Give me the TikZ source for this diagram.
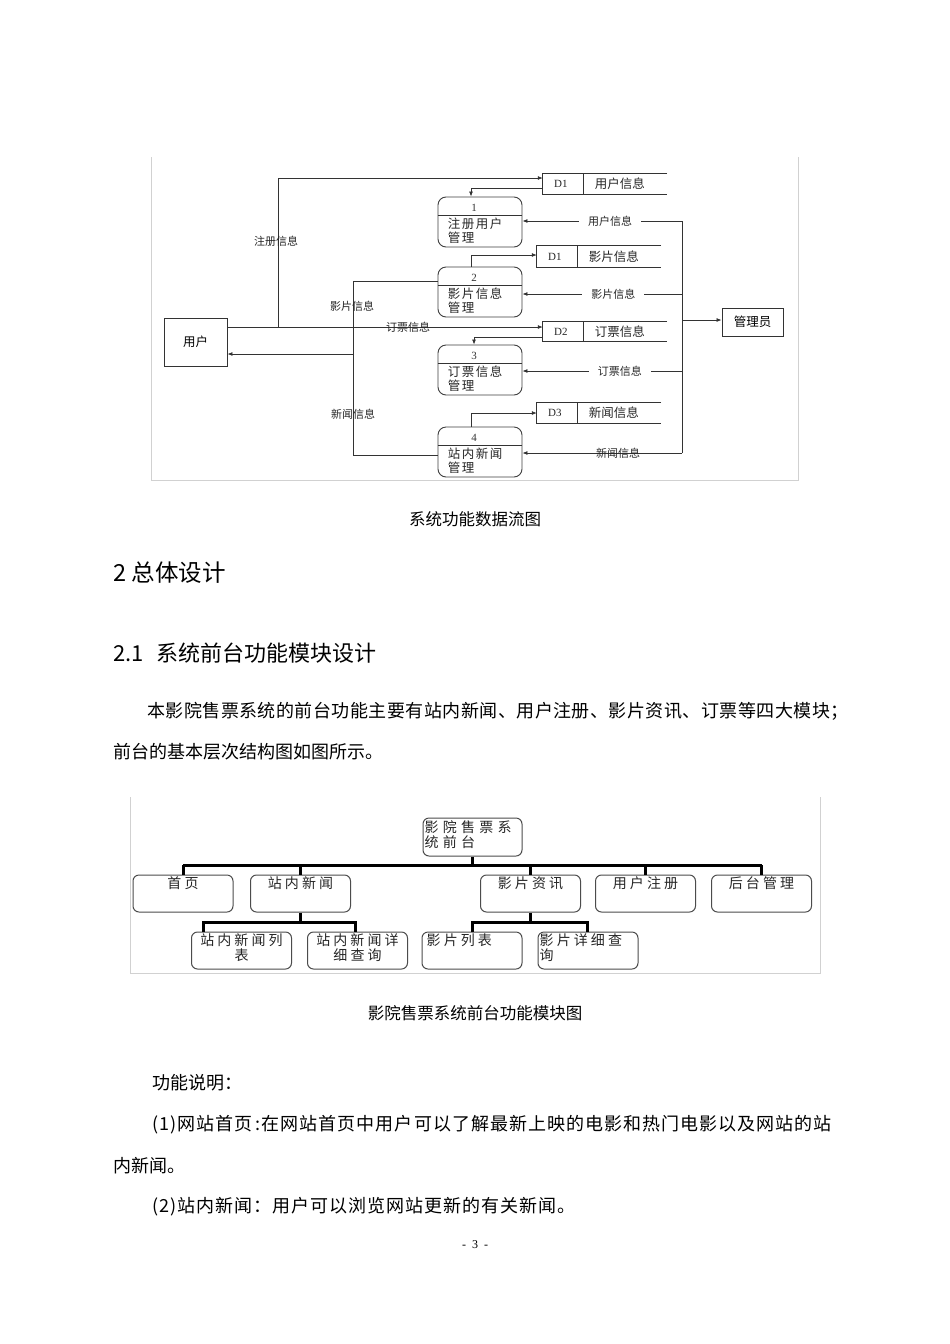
\documentclass[tikz,border=0pt]{standalone}
\usepackage{fontspec}
\setmainfont{Noto Sans CJK SC}
\newfontfamily\cjksp[LetterSpace=12]{Noto Sans CJK SC}
\newfontfamily\cjkmod[LetterSpace=22]{Noto Sans CJK SC}
\newfontfamily\tms{Liberation Serif}
\usetikzlibrary{arrows.meta,calc}
\tikzset{
  frm/.style={draw=black!18, line width=0.9},
  proc/.style={draw=black!75, line width=0.9, rounded corners=8, minimum width=84, minimum height=50, inner sep=0},
  store/.style={minimum width=124, inner sep=0},
  ent/.style={draw=black!80, line width=0.9, inner sep=0, font=\fontsize{12.5}{14}\selectfont},
  flow/.style={draw=black!80, line width=0.8},
  arr/.style={flow, -{Latex[length=5,width=4]}},
  flbl/.style={font=\fontsize{11}{12}\selectfont, text=black!85, inner sep=1},
  pnum/.style={font=\tms\fontsize{11}{12}\selectfont, text=black!80, inner sep=0},
  ptxt/.style={font=\cjksp\fontsize{12.5}{14}\selectfont, text=black!85, inner sep=0, anchor=west},
  sid/.style={font=\tms\fontsize{11}{12}\selectfont, text=black!85, inner sep=0},
  stxt/.style={font=\fontsize{12.5}{14}\selectfont, text=black!85, inner sep=0},
  mbox/.style={draw=black!70, line width=1.0, rounded corners=6, minimum width=100, minimum height=37, inner sep=0},
  mtxt/.style={font=\cjkmod\fontsize{14}{15}\selectfont, text=black!85, inner sep=0},
  hbar/.style={draw=black, line width=3},
  bodytxt/.style={font=\fontsize{18}{18}\selectfont, anchor=west, inner sep=0},
  captxt/.style={font=\fontsize{16.5}{17}\selectfont, inner sep=0},
  hone/.style={font=\fontsize{23.5}{24}\selectfont, anchor=west, inner sep=0},
  htwo/.style={font=\fontsize{22}{23}\selectfont, anchor=west, inner sep=0},
  pgnum/.style={font=\tms\fontsize{12}{13}\selectfont, inner sep=0}
}
\begin{document}
\begin{tikzpicture}[x=1pt,y=-1pt]
\useasboundingbox[fill=white] (0,0) rectangle (950,1344);

% ---------------- data flow diagram ----------------
\draw[frm] (151,157) -- (151,480) -- (798,480) -- (798,157);

\node[proc] (p1) at (480,222) {};
\node[proc] (p2) at (480,292) {};
\node[proc] (p3) at (480,370) {};
\node[proc] (p4) at (480,452) {};
\foreach \p/\n/\a/\b in {p1/1/注册用户/管理, p2/2/影片信息/管理, p3/3/订票信息/管理, p4/4/站内新闻/管理} {
  \draw[flow] ($(\p.north west)+(0,19)$) -- ($(\p.north east)+(0,19)$);
  \node[pnum] (\p-n) at ($(\p.north)+(-6,11)$) {\n};
  \node[ptxt] (\p-a) at ($(\p.north west)+(10,27)$) {\a};
  \node[ptxt] (\p-b) at ($(\p.north west)+(10,41)$) {\b};
}

\node[store, minimum height=20] (s1) at (605,184) {};
\node[store, minimum height=21] (s2) at (599,256.5) {};
\node[store, minimum height=19] (s3) at (605,331.5) {};
\node[store, minimum height=20] (s4) at (599,413) {};
\foreach \s/\d/\t in {s1/D1/用户信息, s2/D1/影片信息, s3/D2/订票信息, s4/D3/新闻信息} {
  \draw[flow] (\s.north east) -- (\s.north west) -- (\s.south west) -- (\s.south east);
  \draw[flow] ($(\s.north west)+(41,0)$) -- ($(\s.south west)+(41,0)$);
  \node[sid] (\s-d) at ($(\s.west)+(18,0)$) {\d};
  \node[stxt] (\s-t) at ($(\s.west)+(77,0)$) {\t};
}

\node[ent, minimum width=63, minimum height=48] (u) at (195.5,342) {用户};
\node[ent, minimum width=61, minimum height=28] (adm) at (752.5,322) {管理员};

% user -> stores
\coordinate (jr) at (278,327);
\coordinate (jt) at (278,178);
\draw[arr] (u.east |- jr) -- (s3.west |- jr);
\draw[arr] (jr) -- (jt) -- (s1.west |- jt);
\node[flbl] (lreg) at (276,241) {注册信息};
\node[flbl] (lord) at (408,327) {订票信息};

% stores <-> processes
\coordinate (c1) at (471,188);
\draw[arr] (s1.west |- c1) -- (c1) -- (c1 |- p1.north);
\coordinate (c2) at (471,255);
\draw[arr] (c2 |- p2.north) -- (c2) -- (s2.west |- c2);
\coordinate (c3) at (474,337);
\draw[arr] (s3.west |- c3) -- (c3) -- (c3 |- p3.north);
\coordinate (c4) at (471,413);
\draw[arr] (c4 |- p4.north) -- (c4) -- (s4.west |- c4);

% administrator bus
\coordinate (bt) at (682,221);
\coordinate (bb) at (682,453);
\coordinate (bm) at (682,320);
\coordinate (b2) at (682,294);
\coordinate (b3) at (682,371);
\draw[flow] (bt) -- (bb);
\draw[arr] (bm) -- (adm.west |- bm);
\draw[arr] (bt) -- node[flbl, fill=white, inner xsep=9, pos=0.45] (lu) {用户信息} (p1.east |- bt);
\draw[arr] (b2) -- node[flbl, fill=white, inner xsep=9, pos=0.43] (lf) {影片信息} (p2.east |- b2);
\draw[arr] (b3) -- node[flbl, fill=white, inner xsep=9, pos=0.39] (lo) {订票信息} (p3.east |- b3);
\draw[arr] (bb) -- node[flbl, pos=0.4] (ln) {新闻信息} (p4.east |- bb);

% processes -> user
\coordinate (l1) at (353,281);
\coordinate (l2) at (353,455);
\coordinate (l3) at (353,354);
\draw[flow] (p2.west |- l1) -- (l1) -- (l2) -- (p4.west |- l2);
\draw[arr] (l3) -- (u.east |- l3);
\node[flbl] (lfilm) at (352,306) {影片信息};
\node[flbl] (lnews) at (353,414) {新闻信息};

% ---------------- text ----------------
\node[captxt] (cap1) at (475,519) {系统功能数据流图};
\node[hone] (hA) at (113,573) {2 总体设计};
\node[htwo] (hB) at (113,653) {2.1\hspace{13pt}系统前台功能模块设计};
\node[bodytxt] (t1) at (147,711) {\addfontfeatures{LetterSpace=2.6}本影院售票系统的前台功能主要有站内新闻、用户注册、影片资讯、订票等四大模块；};
\node[bodytxt] (t2) at (113,752) {前台的基本层次结构图如图所示。};

% ---------------- module diagram ----------------
\draw[frm] (130,797) -- (130,973) -- (820,973) -- (820,797);
\node[mbox, minimum width=99, minimum height=38] (root) at (472.5,837) {};
\node[mtxt, anchor=north west, align=left] (roott) at ($(root.north west)+(2,3)$) {\addfontfeatures{LetterSpace=30}影院售票系\\\addfontfeatures{LetterSpace=30}统前台};
\foreach \m/\x/\t in {m1/183/首页, m2/300.5/站内新闻, m3/530.5/影片资讯, m4/645.5/用户注册, m5/761.5/后台管理} {
  \node[mbox] (\m) at (\x,893.5) {};
  \node[mtxt] (\m-t) at ($(\m.north)+(0,9)$) {\t};
}
\node[mbox] (n1) at (241.5,950.5) {};
\node[mtxt, align=center] (n1t) at ($(n1.north)+(0,16.5)$) {站内新闻列\\表};
\node[mbox] (n2) at (357.5,950.5) {};
\node[mtxt, align=center] (n2t) at ($(n2.north)+(0,16.5)$) {站内新闻详\\细查询};
\node[mbox] (n3) at (472,950.5) {};
\node[mtxt, anchor=west] (n3t) at ($(n3.north west)+(5,9)$) {影片列表};
\node[mbox] (n4) at (588,950.5) {};
\node[mtxt, anchor=north west, align=left] (n4t) at ($(n4.north west)+(2,2)$) {影片详细查\\询};

\coordinate (bus) at (472,865);
\draw[hbar] (root.south) -- (root.south |- bus);
\draw[hbar] (m1.north |- bus) -- (m5.north |- bus);
\foreach \m in {m1,m2,m3,m4,m5} \draw[hbar] (\m.north |- bus) -- (\m.north);
\coordinate (sb1) at (203,922);
\coordinate (sb2) at (355,922);
\draw[hbar] (m2.south) -- (m2.south |- sb1);
\draw[hbar] (sb1 |- n1.north) -- (sb1) -- (sb2) -- (sb2 |- n2.north);
\coordinate (sb3) at (472,922);
\coordinate (sb4) at (587,922);
\draw[hbar] (m3.south) -- (m3.south |- sb3);
\draw[hbar] (sb3 |- n3.north) -- (sb3) -- (sb4) -- (sb4 |- n4.north);

% ---------------- text ----------------
\node[captxt] (cap2) at (475,1013) {影院售票系统前台功能模块图};
\node[bodytxt] (t3) at (152,1083) {功能说明：};
\node[bodytxt] (t4) at (152,1125) {\addfontfeatures{LetterSpace=5.8}(1)网站首页\hspace{3pt}:在网站首页中用户可以了解最新上映的电影和热门电影以及网站的站};
\node[bodytxt] (t5) at (113,1166) {内新闻。};
\node[bodytxt] (t6) at (152,1207) {\addfontfeatures{LetterSpace=5.5}(2)站内新闻：用户可以浏览网站更新的有关新闻。};
\node[pgnum] (pgn) at (475,1245) {-\hspace{6pt}3\hspace{6pt}-};
\end{tikzpicture}
\end{document}
